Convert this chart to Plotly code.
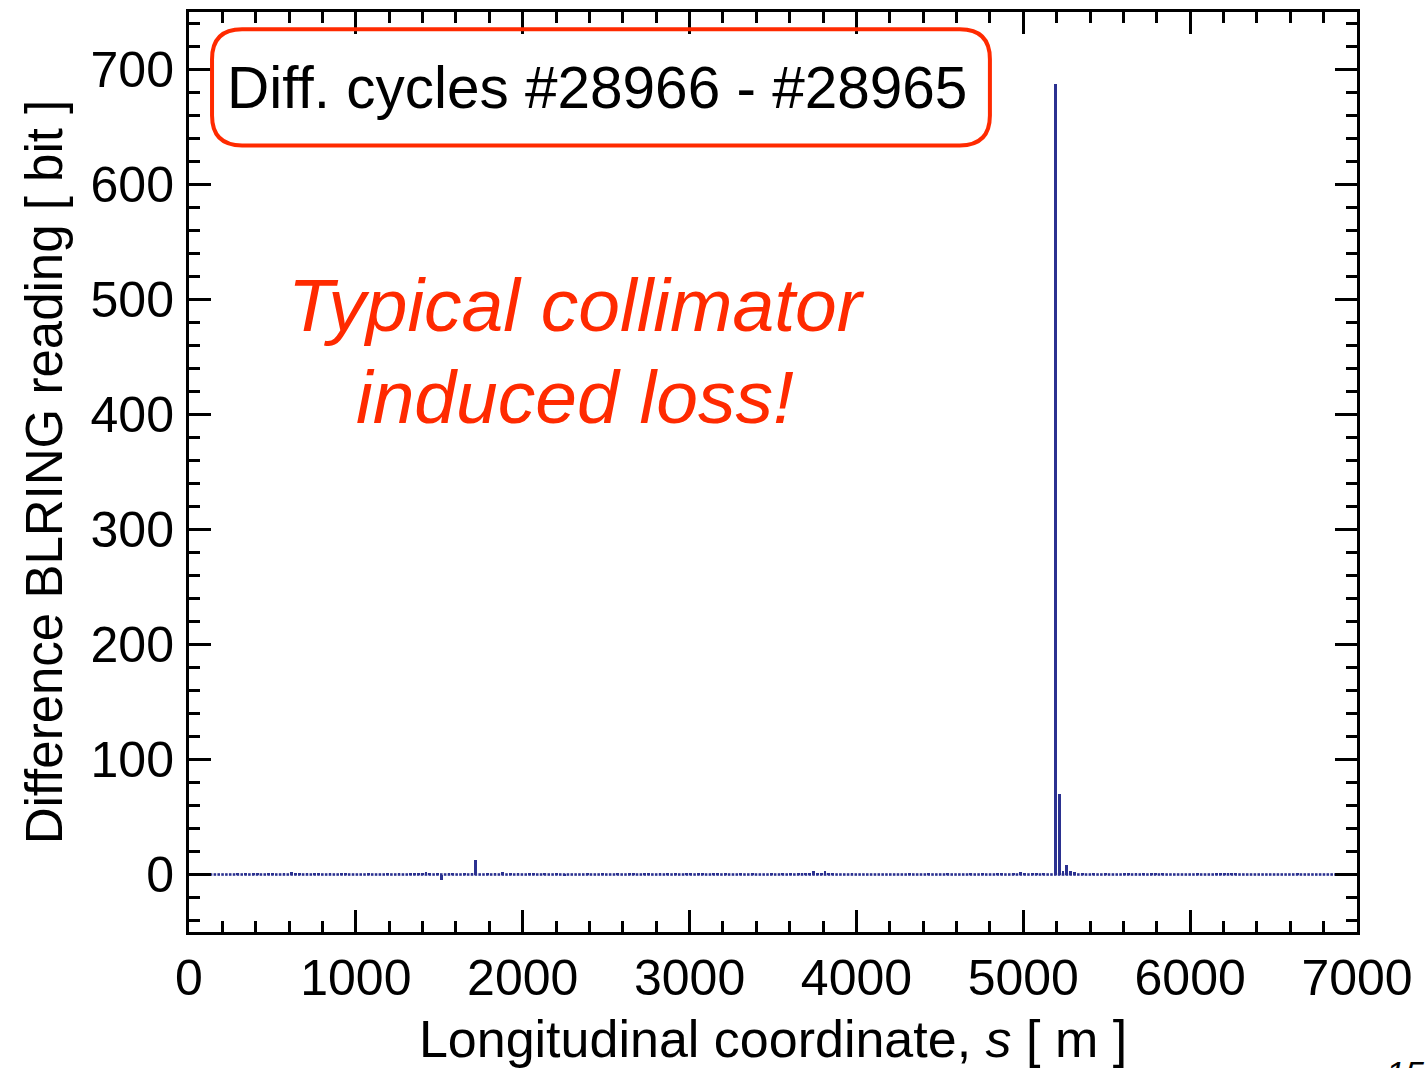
import numpy as np
import plotly.graph_objects as go

# Monitor positions along the ring [m] (regular spacing of the BLM bins)
S_START = 40
S_STEP = 23
N_MON = 299
s_pos = S_START + S_STEP * np.arange(N_MON)

# Difference of BLRING readings [bit]
diff_bits = [
    0, 0, 0, 0, 0, 0, 0, 0, 0, 0, 0, 1, 0, 1, 0, 1, 1, 0, 0, 1,
    1, 0, 0, 1, 0, 2, 1, 1, 0, 1, 0, 1, 1, 0, 0, 1, 0, 0, 1, 1,
    0, 0, 0, 0, 0, 1, 0, 0, 0, 0, 1, 0, 0, 1, 0, 0, 1, 1, 1, 1,
    2, 1, 0, 1, -5, 0, 1, 1, 0, 0, 1, 0, 1, 13, 0, 0, 1, 0, 1, 0,
    2, 0, 1, 0, 1, 0, 0, 1, 1, 0, 0, 1, 0, 0, 1, 0, -1, 0, 0, 0,
    0, 0, 1, 0, 0, 0, 1, 0, 0, 0, 1, 0, 0, 1, 1, 0, 0, 1, 1, 0,
    0, 1, 0, 1, 0, 1, 0, 0, 1, 1, 0, 1, 1, 0, 0, 1, 1, 0, 1, 0,
    0, 0, 1, 0, 0, 1, 0, 0, 0, 0, 1, 0, 0, 1, 0, 1, 0, 1, 1, 1,
    1, 3, 1, 1, 3, 1, 1, 0, 0, 0, 0, 1, 0, 0, 0, 0, 0, 0, 0, 0,
    0, 0, 0, 0, 0, 0, 1, 0, 0, 0, 0, 1, 0, 0, 0, 0, 1, 0, 0, 0,
    0, 0, 1, 0, 0, 1, 0, 0, 0, 1, 1, 0, 0, 1, 0, 2, 1, 0, 1, 1,
    0, 1, 0, 0, 687, 70, 3, 8, 3, 2, 0, 1, 0, 0, 1, 0, 0, 1, 0, 0,
    0, 0, 1, 1, 0, 1, 0, 1, 0, 1, 1, 0, 1, 0, 0, 0, 0, 0, 0, 0,
    0, 1, 0, 0, 0, 0, 1, 1, 1, 1, 1, 1, 0, 0, 0, 0, 0, 0, 0, 0,
    0, 0, 0, 0, 0, 0, 0, 1, 0, 0, 0, 0, 0, 0, 0, 0, 0, 0, 0,
]
zero_level = [0] * N_MON

x_ticks = [0, 1000, 2000, 3000, 4000, 5000, 6000, 7000]
y_ticks = [0, 100, 200, 300, 400, 500, 600, 700]

BLUE = "#2B3190"
RED = "#FF2A00"
FONT = "Liberation Sans, Arial, Helvetica, sans-serif"

fig = go.Figure()
fig.add_trace(go.Bar(x=s_pos, y=diff_bits, width=17, marker=dict(color=BLUE, line=dict(width=0)),
                     name="diff", showlegend=False))
fig.add_trace(go.Scatter(x=s_pos, y=zero_level, mode="markers",
                         marker=dict(symbol="square", size=2.6, color=BLUE, line=dict(width=0)),
                         showlegend=False, hoverinfo="skip"))

# rounded red box around the label
x0, x1, y0, y1 = 138, 4800, 634, 735
rx, ry = 180, 26
path = (f"M {x0+rx},{y1} L {x1-rx},{y1} Q {x1},{y1} {x1},{y1-ry} "
        f"L {x1},{y0+ry} Q {x1},{y0} {x1-rx},{y0} L {x0+rx},{y0} "
        f"Q {x0},{y0} {x0},{y0+ry} L {x0},{y1-ry} Q {x0},{y1} {x0+rx},{y1} Z")
fig.add_shape(type="path", path=path, xref="x", yref="y",
              line=dict(color=RED, width=4), fillcolor="rgba(0,0,0,0)")

fig.add_annotation(x=2445, y=684, xref="x", yref="y", text="Diff. cycles #28966 - #28965",
                   showarrow=False, font=dict(family=FONT, size=58.5, color="black"))
fig.add_annotation(x=2325, y=495, xref="x", yref="y", text="<i>Typical collimator</i>",
                   showarrow=False, font=dict(family=FONT, size=75, color=RED))
fig.add_annotation(x=2315, y=415, xref="x", yref="y", text="<i>induced loss!</i>",
                   showarrow=False, font=dict(family=FONT, size=75, color=RED))
fig.add_annotation(x=1.041, y=-0.130, xref="paper", yref="paper", text="<i>15</i>",
                   xanchor="center", yanchor="top", showarrow=False,
                   font=dict(family=FONT, size=34, color="black"))

axis_common = dict(
    showline=True, linecolor="black", linewidth=3, mirror="allticks",
    ticks="inside", tickwidth=3, tickcolor="black", ticklen=22,
    showgrid=False, zeroline=False,
    tickfont=dict(family=FONT, size=50, color="black"),
)

fig.update_xaxes(range=[0, 7000], tickvals=x_ticks, ticktext=[str(v) for v in x_ticks],
                 minor=dict(dtick=200, tick0=0, ticklen=11, tickwidth=3, tickcolor="black", ticks="inside", showgrid=False),
                 ticklabelstandoff=0,
                 title=dict(text="Longitudinal coordinate, <i>s</i> [ m ]", font=dict(family=FONT, size=52, color="black"), standoff=21),
                 **axis_common)
fig.update_yaxes(range=[-50, 750], tickvals=y_ticks, ticktext=[str(v) for v in y_ticks],
                 minor=dict(dtick=20, tick0=0, ticklen=11, tickwidth=3, tickcolor="black", ticks="inside", showgrid=False),
                 ticklabelstandoff=2,
                 title=dict(text="Difference BLRING reading [ bit ]", font=dict(family=FONT, size=51, color="black"), standoff=12),
                 **axis_common)

fig.update_layout(width=1427, height=1068, margin=dict(l=189, r=70, t=12, b=136, autoexpand=False),
                  paper_bgcolor="white", plot_bgcolor="white", bargap=0, showlegend=False)

fig.write_html("out.html")
